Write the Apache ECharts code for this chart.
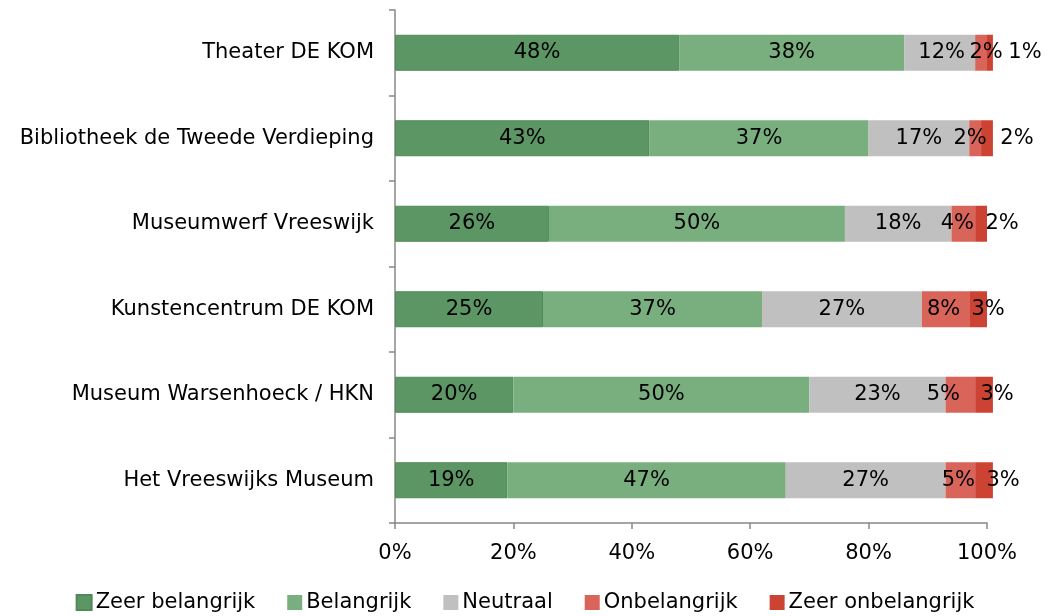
<!DOCTYPE html>
<html>
<head>
<meta charset="UTF-8">
<title></title>
<style>
  * { margin: 0; padding: 0; }
  #main { width: 1050px; height: 616px; background: #fff; }
</style>
<script src="https://cdn.jsdelivr.net/npm/echarts@6/dist/echarts.min.js"></script>
</head>
<body>
<div id="main"></div>
<script>
var categories = ['Het Vreeswijks Museum', 'Museum Warsenhoeck / HKN', 'Kunstencentrum DE KOM',
                  'Museumwerf Vreeswijk', 'Bibliotheek de Tweede Verdieping', 'Theater DE KOM'];
var seriesNames = ['Zeer belangrijk', 'Belangrijk', 'Neutraal', 'Onbelangrijk', 'Zeer onbelangrijk'];
var zeerBelangrijk = [19, 20, 25, 26, 43, 48];
var belangrijk = [47, 50, 37, 50, 37, 38];
var neutraal = [27, 23, 27, 18, 17, 12];
var onbelangrijk = [5, 5, 8, 4, 2, 2];
var zeerOnbelangrijk = [3, 3, 3, 2, 2, 1];
var xTicks = [0, 20, 40, 60, 80, 100];

// styling: colours and horizontal nudges of the crowded labels (px)
var colors = ['#5b9664', '#79ae7e', '#c0c0c0', '#d9645a', '#cc4334'];
var borders = ['#4f8a58', '#79ae7e', '#c0c0c0', '#d9645a', '#cc4334'];
var labelNudge = [
    [0, 0, 0, 0, 0, 0],
    [0, 0, 0, 0, 0, 0],
    [0, 0, 0, 0, 0, 2],
    [-2, -17, -2, -6, -5, 5],
    [19, 13, 10, 21, 30, 35]
];
var values = [zeerBelangrijk, belangrijk, neutraal, onbelangrijk, zeerOnbelangrijk];
var font = 'DejaVu Sans';
var fs = 21;

var myChart = echarts.init(document.getElementById('main'));
var option = {
    animation: false,
    textStyle: { fontFamily: font },
    legend: {
        top: 587,
        left: 'center',
        itemWidth: 15,
        itemHeight: 15,
        itemGap: 32,
        icon: 'rect',
        textStyle: { fontFamily: font, fontSize: fs, color: '#000', padding: [0, 0, 0, -1] },
        data: seriesNames
    },
    grid: { left: 395, right: 63, top: 10, bottom: 93 },
    xAxis: {
        type: 'value',
        min: xTicks[0],
        max: xTicks[xTicks.length - 1],
        interval: 20,
        axisLine: { show: true, lineStyle: { color: '#888', width: 1.5 } },
        axisTick: { show: true, length: 6, lineStyle: { color: '#888', width: 1.5 } },
        splitLine: { show: false },
        axisLabel: { formatter: '{value}%', fontSize: fs, color: '#000', margin: 20, fontFamily: font }
    },
    yAxis: {
        type: 'category',
        data: categories,
        axisLine: { show: true, lineStyle: { color: '#888', width: 1.5 } },
        axisTick: { show: true, length: 6, lineStyle: { color: '#888', width: 1.5 } },
        axisLabel: { fontSize: fs, color: '#000', margin: 21, fontFamily: font }
    },
    series: seriesNames.map(function (name, i) {
        return {
            name: name,
            type: 'bar',
            stack: 'total',
            barWidth: 36,
            clip: false,
            itemStyle: { color: colors[i], borderColor: borders[i], borderWidth: i === 0 ? 1 : 0 },
            label: {
                show: true,
                position: 'inside',
                formatter: '{c}%',
                fontSize: fs,
                color: '#000',
                fontFamily: font
            },
            labelLayout: function (params) {
                return { dx: labelNudge[i][params.dataIndex], hideOverlap: false };
            },
            data: values[i]
        };
    })
};
myChart.setOption(option);
</script>
</body>
</html>
